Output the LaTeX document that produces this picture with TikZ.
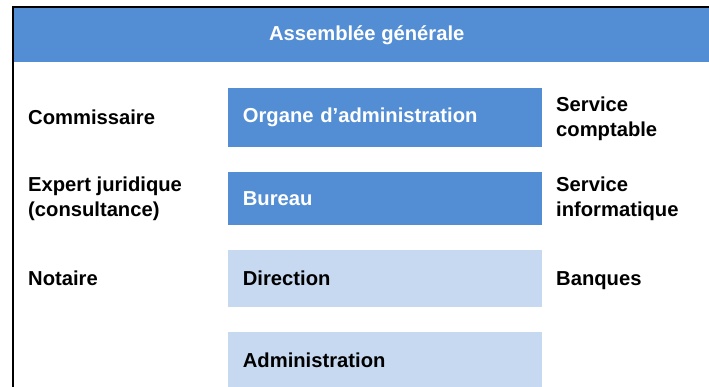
\documentclass[tikz,border=0pt]{standalone}
\usepackage{fontspec}
\setmainfont{Liberation Sans}
\definecolor{darkblue}{RGB}{83,142,213}
\definecolor{lightblue}{RGB}{198,217,240}
\begin{document}
\begin{tikzpicture}[x=1pt,y=-1pt,
  every node/.style={font=\bfseries\fontsize{20.2}{25}\selectfont},
  boxnode/.style={anchor=north west, minimum width=314pt, text width=284.6pt,
    inner xsep=14.7pt, inner ysep=0pt, align=left},
  darkbox/.style={boxnode, fill=darkblue, text=white},
  lightbox/.style={boxnode, fill=lightblue, text=black},
  label/.style={anchor=base west, inner sep=0pt, align=left, text=black}]
\useasboundingbox (0,0) rectangle (709,387);
\clip (0,0) rectangle (709,387);
\fill[white] (0,0) rectangle (709,387);
\node[anchor=north west, fill=darkblue, text=white, minimum width=705pt, minimum height=54pt, inner sep=0pt] (ag) at (14,8) {Assemblée générale};
\draw[line width=2pt] (13,400) -- (13,7) -- (720,7);
\node[darkbox, minimum height=58.7pt] (org) at (228,88) {Organe d’administration};
\node[darkbox, minimum height=52.7pt] (bur) at (228,172) {Bureau};
\node[lightbox, minimum height=56.7pt] (dir) at (228,250) {Direction};
\node[lightbox, minimum height=57pt] (adm) at (228,332) {Administration};
\node[label] (com) at (28,124.3) {Commissaire};
\node[label] (exp) at (28,217) {Expert juridique\\(consultance)};
\node[label] (not) at (28,285.7) {Notaire};
\node[label] (sc) at (556,136.7) {Service\\comptable};
\node[label] (si) at (556,217) {Service\\informatique};
\node[label] (ban) at (556,285.7) {Banques};
\end{tikzpicture}
\end{document}
